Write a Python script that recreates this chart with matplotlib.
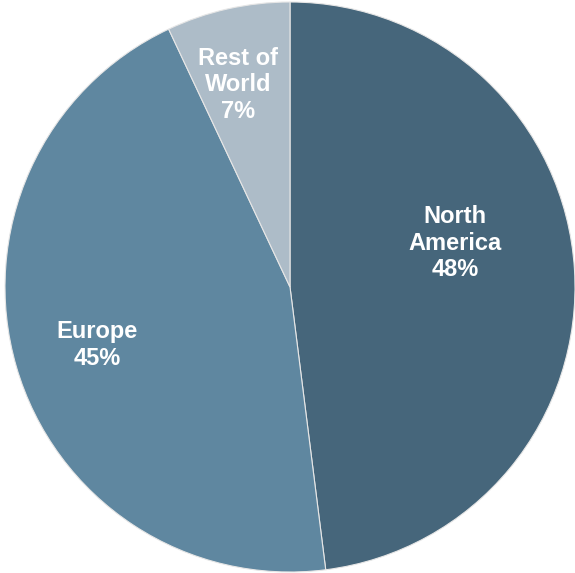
import matplotlib
matplotlib.use("Agg")
import matplotlib.pyplot as plt

regions = ['North\nAmerica', 'Europe', 'Rest of\nWorld']
shares = [48, 45, 7]
colors = ['#46667B', '#5F87A0', '#ADBCC8']

# label centres in data units (pie radius = 1)
label_xy = [(0.579, 0.154), (-0.677, -0.204), (-0.182, 0.709)]


def main():
    fig = plt.figure(figsize=(5.75, 5.73), dpi=100)
    ax = fig.add_axes([0, 0, 1, 1])

    ax.pie(shares, colors=colors, startangle=90, counterclock=False,
           radius=1.0, wedgeprops=dict(edgecolor='#e6e6e6', linewidth=0.8))

    for name, val, (x, y) in zip(regions, shares, label_xy):
        ax.text(x, y, '%s\n%d%%' % (name, val), ha='center', va='center',
                color='white', fontsize=17, fontweight='bold',
                family='Liberation Sans', linespacing=1.2)

    # map the pie so its centre sits at ~(290, 287) px with ~285 px radius
    r = 285.0
    ax.set_xlim(-290 / r, (575 - 290) / r)
    ax.set_ylim(-(573 - 287) / r, 287 / r)
    ax.set_aspect('auto')
    ax.axis('off')

    fig.savefig('out.png', dpi=100, facecolor='white')


if __name__ == '__main__':
    main()
